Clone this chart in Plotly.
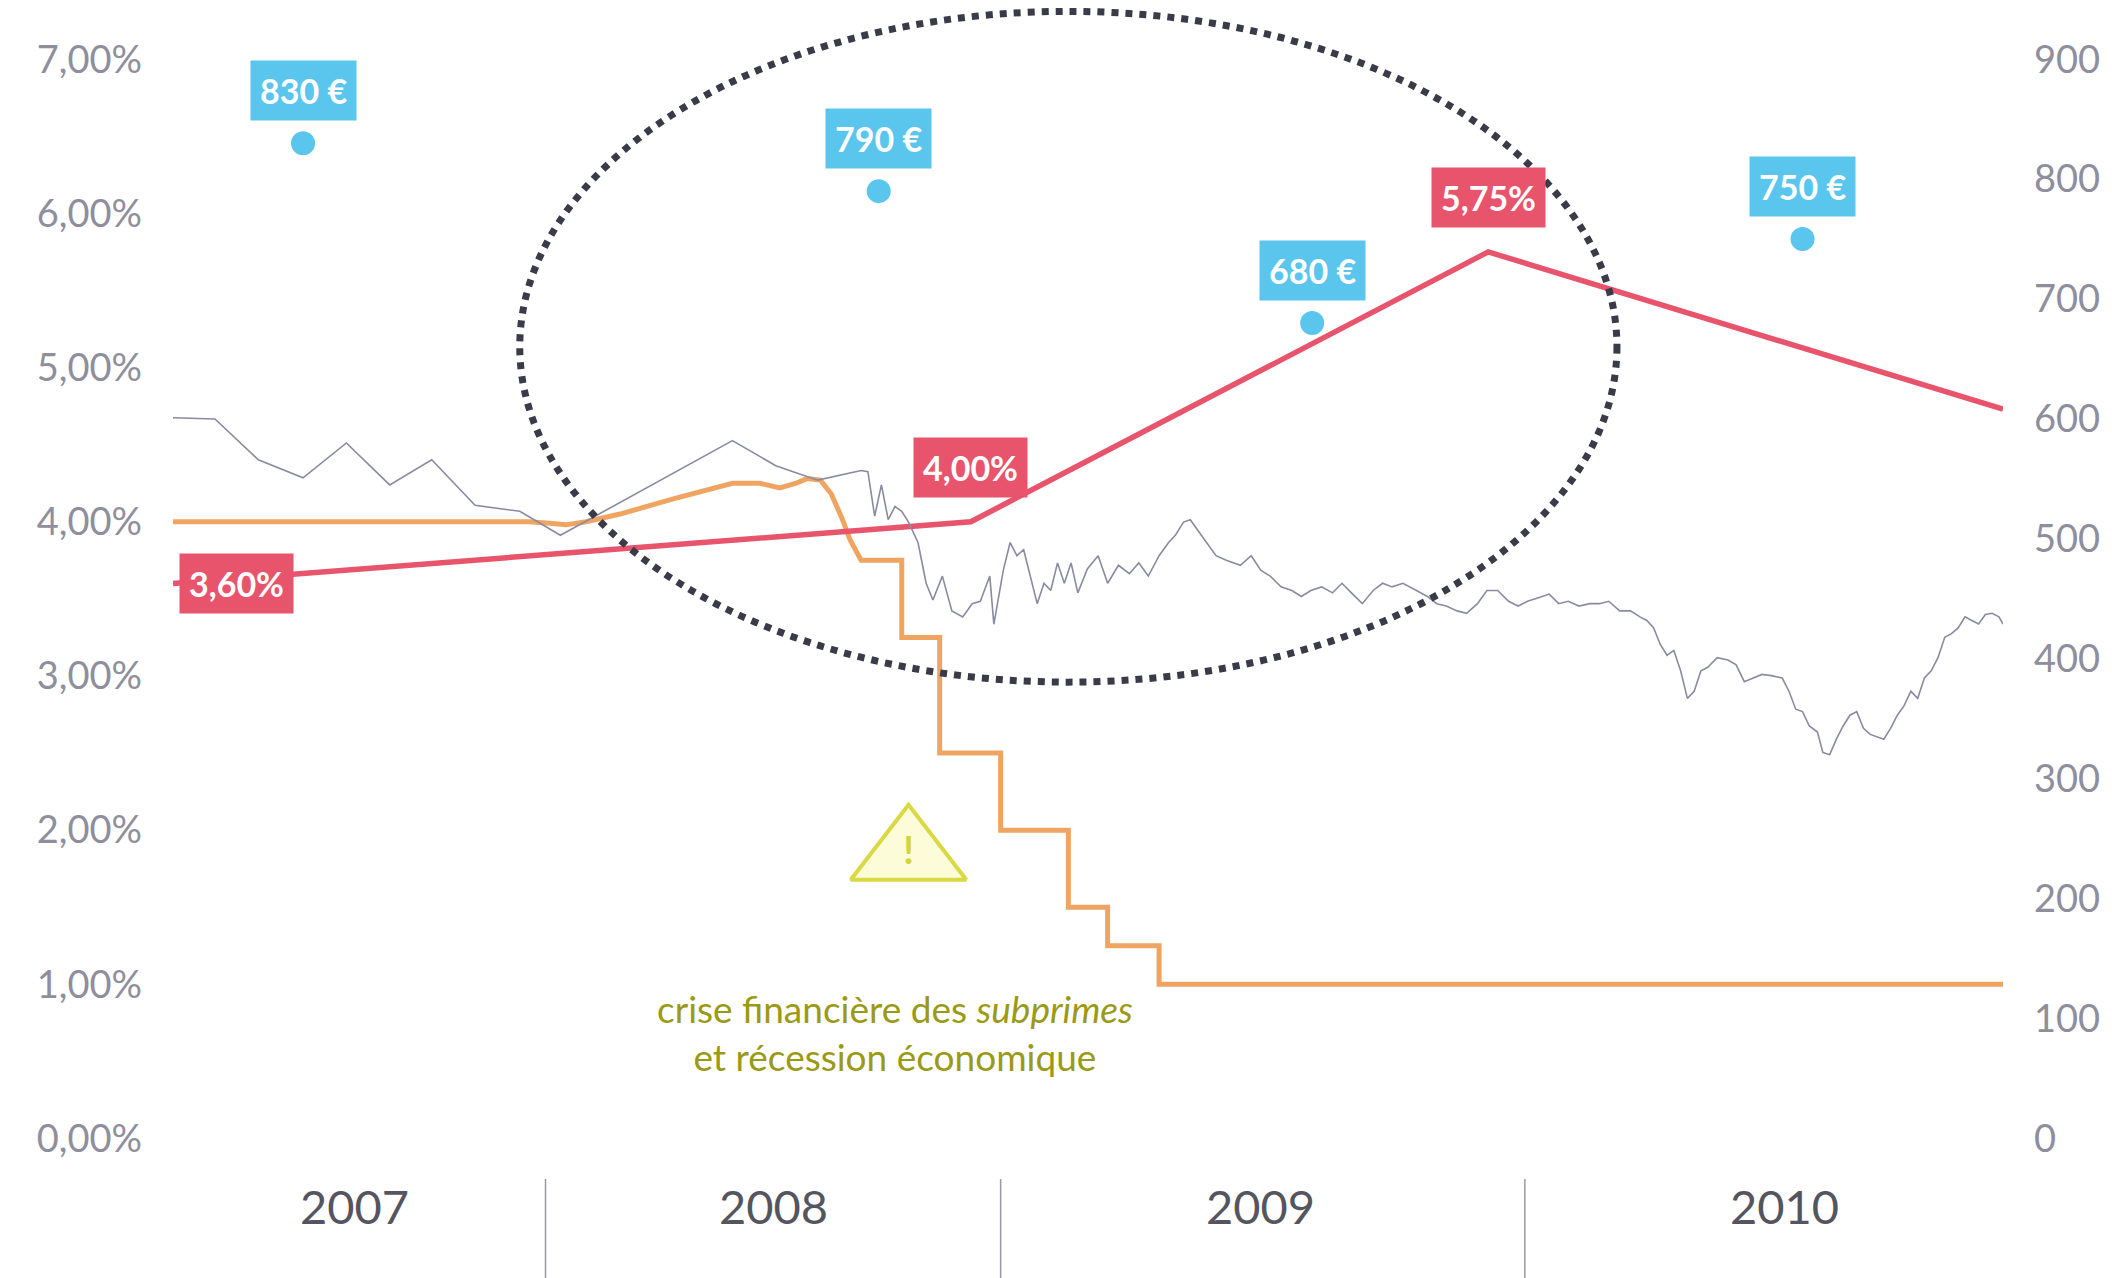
import plotly.graph_objects as go

# time index (0..1351) along the horizontal axis
year_labels = ["2007", "2008", "2009", "2010"]
year_centers = [134, 443, 803, 1190]
year_bounds = [275, 611, 998]

# policy rate (red, left axis %)
rate_t = [0, 589, 971, 1351]
rate_v = [3.60, 4.00, 5.75, 4.73]
rate_labels = ["3,60%", "4,00%", "5,75%"]

# ECB / refi rate (orange, left axis %)
orange_t = [0, 263, 278, 290, 305, 330, 370, 400, 413, 433, 448, 460, 468, 478, 486, 494, 500, 508, 538, 538, 566, 566, 611, 611, 661, 661, 690, 690, 728, 728, 1351]
orange_v = [4.00, 4.00, 3.99, 3.98, 4.00, 4.05, 4.15, 4.22, 4.25, 4.25, 4.22, 4.25, 4.28, 4.27, 4.18, 4.02, 3.88, 3.75, 3.75, 3.25, 3.25, 2.50, 2.50, 2.00, 2.00, 1.50, 1.50, 1.25, 1.25, 1.00, 1.00]

# stock index (gray, right axis)
stock_t = [0, 31, 63, 96, 128, 160, 191, 223, 256, 286, 413, 445, 476, 508, 513, 518, 523, 528, 533, 538, 543, 550, 556, 561,
           568, 575, 583, 590, 596, 603, 606, 613, 618, 623, 628, 633, 638, 643, 648, 653, 658, 663, 668, 675, 683, 690, 698,
           706, 713, 720, 728, 735, 740, 746, 751, 756, 763, 770, 778, 788, 796, 803, 810, 818, 826, 833, 840, 848, 856, 863,
           870, 878, 886, 893, 900, 908, 918, 926, 933, 940, 948, 955, 963, 970, 978, 986, 993, 1000, 1008, 1016, 1023, 1030,
           1038, 1046, 1053, 1060, 1068, 1076, 1083, 1088, 1093, 1098, 1103, 1108, 1113, 1118, 1123, 1128, 1133, 1140, 1148,
           1154, 1160, 1166, 1173, 1180, 1188, 1193, 1198, 1203, 1208, 1214, 1218, 1223, 1228, 1233, 1238, 1243, 1248, 1253,
           1258, 1263, 1268, 1273, 1278, 1283, 1288, 1293, 1298, 1303, 1308, 1313, 1318, 1323, 1328, 1333, 1338, 1343, 1348, 1351]
stock_v = [601, 600, 566, 551, 580, 545, 566, 528, 523, 503, 582, 561, 549, 557, 556, 519, 545, 516, 527, 523, 514, 497, 463, 449,
           469, 440, 435, 446, 448, 469, 429, 474, 497, 486, 491, 469, 446, 463, 457, 480, 463, 480, 455, 475, 486, 463, 478,
           471, 480, 469, 486, 497, 503, 514, 516, 508, 497, 486, 482, 478, 486, 474, 469, 460, 457, 452, 457, 460, 455, 463,
           455, 446, 457, 463, 460, 463, 457, 452, 446, 444, 440, 438, 446, 457, 457, 448, 444, 448, 451, 454, 446, 448,
           444, 446, 446, 448, 440, 440, 435, 432, 426, 412, 403, 407, 390, 367, 373, 390, 393, 401, 399, 395, 381,
           384, 387, 386, 384, 373, 358, 356, 344, 339, 322, 320, 333, 344, 353, 356, 342, 337, 335, 333, 342, 353,
           361, 373, 367, 384, 390, 401, 418, 421, 426, 435, 432, 429, 437, 438, 435, 429]

# average price markers (blue, right axis)
price_t = [96, 521, 841, 1203]
price_v = [830, 790, 680, 750]
price_labels = ["830 €", "790 €", "680 €", "750 €"]

FONT = "Lato"
GRAY = "#8e8e9c"
RED = "#e8546c"
ORANGE = "#efa462"
BLUE = "#5ac6ee"

fig = go.Figure()
fig.add_trace(go.Scatter(x=stock_t, y=stock_v, yaxis="y2", mode="lines",
                         line=dict(color="#8a8aa0", width=1.6), hoverinfo="skip"))
fig.add_trace(go.Scatter(x=orange_t, y=orange_v, mode="lines",
                         line=dict(color=ORANGE, width=5), hoverinfo="skip"))
fig.add_trace(go.Scatter(x=rate_t, y=rate_v, mode="lines",
                         line=dict(color=RED, width=5.5), hoverinfo="skip"))
fig.add_trace(go.Scatter(x=price_t, y=price_v, yaxis="y2", mode="markers",
                         marker=dict(color=BLUE, size=24), hoverinfo="skip"))
# warning sign
fig.add_trace(go.Scatter(x=[543], y=[1.84], mode="markers+text", text=["<b>!</b>"],
                         textposition="middle center", textfont=dict(size=38, color="#d4d43a", family=FONT),
                         marker=dict(symbol="triangle-up", size=100, color="#fdfcd8",
                                     line=dict(color="#d9d944", width=4)), hoverinfo="skip"))

ann = []
ann.append(dict(x=rate_t[0], y=rate_v[0], xref="x", yref="y", text="<b>" + rate_labels[0] + "</b>",
                xanchor="left", xshift=6, showarrow=False, bgcolor=RED, borderpad=9,
                font=dict(color="white", size=34, family=FONT)))
for i in (1, 2):
    ann.append(dict(x=rate_t[i], y=rate_v[i], xref="x", yref="y", text="<b>" + rate_labels[i] + "</b>",
                    yshift=54, showarrow=False, bgcolor=RED, borderpad=9,
                    font=dict(color="white", size=34, family=FONT)))
for t, v, s in zip(price_t, price_v, price_labels):
    ann.append(dict(x=t, y=v, xref="x", yref="y2", text="<b>" + s + "</b>", yshift=53,
                    showarrow=False, bgcolor=BLUE, borderpad=9,
                    font=dict(color="white", size=34, family=FONT)))
ann.append(dict(x=533, y=0.69, xref="x", yref="y", showarrow=False,
                text="crise financière des <i>subprimes</i><br>et récession économique",
                font=dict(color="#9a9a14", size=37, family=FONT)))
for lab, c in zip(year_labels, year_centers):
    ann.append(dict(x=c, y=-0.055, xref="x", yref="paper", text=lab, showarrow=False,
                    font=dict(color="#55555f", size=47, family=FONT)))

shapes = [dict(type="circle", xref="x", yref="y", x0=256, x1=1066, y0=2.96, y1=7.31,
               line=dict(color="#3a3a48", width=7, dash="dot"))]
for b in year_bounds:
    shapes.append(dict(type="line", xref="x", yref="paper", x0=b, x1=b, y0=-0.006, y1=-0.1,
                       line=dict(color="#9a9aa4", width=1.5)))

fig.update_layout(
    width=2112, height=1278, paper_bgcolor="white", plot_bgcolor="white",
    margin=dict(l=165, r=117, t=0, b=114), showlegend=False,
    annotations=ann, shapes=shapes,
    xaxis=dict(range=[0, 1351], visible=False),
    yaxis=dict(range=[-0.217, 7.332], tickvals=[0, 1, 2, 3, 4, 5, 6, 7],
               ticktext=["0,00%", "1,00%", "2,00%", "3,00%", "4,00%", "5,00%", "6,00%", "7,00%"],
               showgrid=False, zeroline=False, ticklabelstandoff=30,
               tickfont=dict(color=GRAY, size=38, family=FONT)),
    yaxis2=dict(range=[-27.9, 942.7], overlaying="y", side="right",
                tickvals=[0, 100, 200, 300, 400, 500, 600, 700, 800, 900],
                showgrid=False, zeroline=False, ticklabelstandoff=30,
                tickfont=dict(color=GRAY, size=38, family=FONT)),
)
fig.write_html("out.html")
